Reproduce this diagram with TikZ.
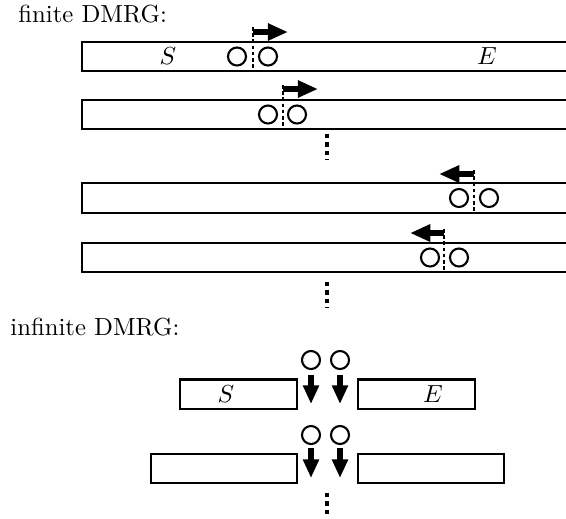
\documentclass[tikz,border=0pt]{standalone}
\usetikzlibrary{arrows.meta}
\begin{document}
\begin{tikzpicture}[x=0.405pt,y=-0.405pt,
  barbox/.style={draw,line width=0.85pt,rectangle,inner sep=0pt,minimum height=11.8pt,anchor=west},
  longbar/.style={barbox,minimum width=243pt},
  site/.style={draw,circle,line width=0.85pt,inner sep=0pt,minimum size=7.3pt},
  cut/.style={line width=0.75pt,dash pattern=on 1.5pt off 1pt},
  sweeparrow/.style={line width=2.6pt,-{Triangle[length=8.2pt,width=6.6pt]}},
  addarrow/.style={line width=2.2pt,-{Triangle[length=7.6pt,width=6.2pt]}},
  vdots/.style={line width=1.7pt,dash pattern=on 1.7pt off 1.7pt},
  lab/.style={inner sep=0pt}]
\useasboundingbox (0,0) rectangle (566,518);
\clip (0,0) rectangle (566,518);

% titles
\node[lab,anchor=base west] (t1) at (18,22) {finite DMRG:};
\node[lab,anchor=base west] (t2) at (10,335) {infinite DMRG:};

% finite DMRG bars
\node[longbar] (b1) at (81,56.5) {};
\node[longbar] (b2) at (81,114.5) {};
\node[longbar] (b3) at (81,198) {};
\node[longbar] (b4) at (81,257.5) {};
\node[lab] (S1) at (168,56) {$S$};
\node[lab] (E1) at (487,56) {$E$};

% bar 1
\node[site] (c11) at (237,56.5) {};
\node[site] (c12) at (268,56.5) {};
\coordinate (d1t) at (253,27); \coordinate (d1b) at (253,71);
\draw[cut] (d1t) -- (d1b);
\coordinate (a1s) at (253,32); \coordinate (a1e) at (288,32);
\draw[sweeparrow] (a1s) -- (a1e);

% bar 2
\node[site] (c21) at (268,114.5) {};
\node[site] (c22) at (297,114.5) {};
\coordinate (d2t) at (283,85); \coordinate (d2b) at (283,129);
\draw[cut] (d2t) -- (d2b);
\coordinate (a2s) at (283,89); \coordinate (a2e) at (318,89);
\draw[sweeparrow] (a2s) -- (a2e);

% dots
\coordinate (v1t) at (327,134); \coordinate (v1b) at (327,160);
\draw[vdots] (v1t) -- (v1b);

% bar 3
\node[site] (c31) at (459,198) {};
\node[site] (c32) at (489,198) {};
\coordinate (d3t) at (474,170); \coordinate (d3b) at (474,213);
\draw[cut] (d3t) -- (d3b);
\coordinate (a3s) at (474,174); \coordinate (a3e) at (439,174);
\draw[sweeparrow] (a3s) -- (a3e);

% bar 4
\node[site] (c41) at (430,257.5) {};
\node[site] (c42) at (459,257.5) {};
\coordinate (d4t) at (444,229); \coordinate (d4b) at (444,272);
\draw[cut] (d4t) -- (d4b);
\coordinate (a4s) at (444,233); \coordinate (a4e) at (410,233);
\draw[sweeparrow] (a4s) -- (a4e);

\coordinate (v2t) at (327,282); \coordinate (v2b) at (327,308);
\draw[vdots] (v2t) -- (v2b);

% infinite DMRG
\node[site] (i11) at (311,360) {};
\node[site] (i12) at (340,360) {};
\node[barbox,minimum width=47.4pt] (iS) at (179,394) {};
\node[barbox,minimum width=47.4pt] (iE) at (357,394) {};
\node[lab] (S2) at (226,394) {$S$};
\node[lab] (E2) at (433,394) {$E$};
\coordinate (g1s) at (311,375); \coordinate (g1e) at (311,404);
\coordinate (g2s) at (340,375); \coordinate (g2e) at (340,404);
\draw[addarrow] (g1s) -- (g1e);
\draw[addarrow] (g2s) -- (g2e);

\node[site] (i21) at (311,435) {};
\node[site] (i22) at (340,435) {};
\node[barbox,minimum width=59.1pt] (jS) at (150,468.5) {};
\node[barbox,minimum width=59.1pt] (jE) at (357,468.5) {};
\coordinate (h1s) at (311,448); \coordinate (h1e) at (311,478);
\coordinate (h2s) at (340,448); \coordinate (h2e) at (340,478);
\draw[addarrow] (h1s) -- (h1e);
\draw[addarrow] (h2s) -- (h2e);

\coordinate (v3t) at (327,493); \coordinate (v3b) at (327,518);
\draw[vdots] (v3t) -- (v3b);
\end{tikzpicture}
\end{document}
